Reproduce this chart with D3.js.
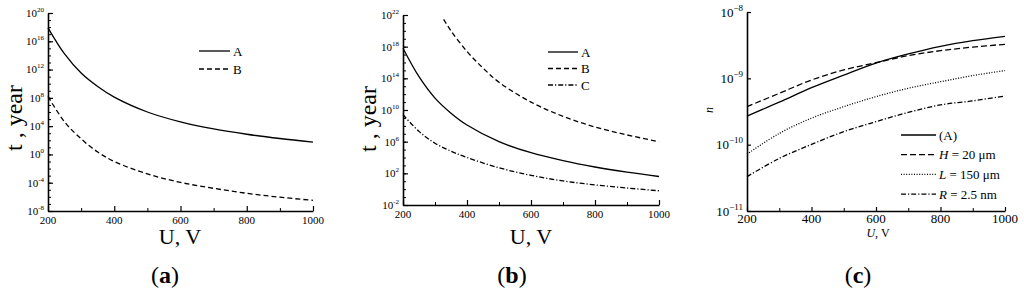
<!DOCTYPE html>
<html><head><meta charset="utf-8">
<script src="https://cdn.jsdelivr.net/npm/d3@7"></script>
<style>
html,body{margin:0;padding:0;background:#fff;}
svg{display:block;}
text{font-family:"Liberation Serif","Times New Roman","DejaVu Serif",serif;fill:#000;}
</style></head>
<body>
<svg id="chart" width="1024" height="289"></svg>
<script>
// ---------- DATA ----------
// Panel (a)
const Ua = [200,250,300,350,400,500,600,700,800,900,1000];
const tA_a = [7.9e17,1.6e14,3.2e11,4.0e9,1.26e8,1.0e6,4.0e4,4.0e3,710,178,56];
const tB_a = [1.6e8,4.0e4,160,2.2,0.1,1.8e-3,1.1e-4,1.6e-5,3.2e-6,8.9e-7,3.2e-7];
// Panel (b)
const UA_b = [200,250,300,350,400,500,600,700,800,900,1000];
const tA_b = [6.3e17,1.6e14,3.2e11,4.0e9,1.26e8,1.0e6,4.0e4,4.0e3,630,141,40];
const UB_b = [327,350,400,450,500,600,700,800,900,1000];
const tB_b = [2.8e21,1.0e20,2.5e17,2.0e15,3.2e13,1.0e11,1.6e9,7.1e7,7.1e6,1.0e6];
const UC_b = [200,250,300,350,400,500,600,700,800,900,1000];
const tC_b = [2.5e9,2.0e7,6.3e5,6.3e4,1.0e4,500,56,11,3.5,1.4,0.63];
// Panel (c)
const Uc = [200,300,400,500,600,700,800,900,1000];
const nA_c = [2.70e-10,4.37e-10,7.24e-10,1.12e-9,1.70e-9,2.33e-9,3.03e-9,3.70e-9,4.30e-9];
const nH_c = [3.74e-10,5.94e-10,9.44e-10,1.34e-9,1.72e-9,2.20e-9,2.61e-9,2.96e-9,3.26e-9];
const nL_c = [7.2e-11,1.48e-10,2.51e-10,3.74e-10,5.3e-10,7.08e-10,8.9e-10,1.10e-9,1.31e-9];
const nR_c = [3.3e-11,6.2e-11,1.01e-10,1.57e-10,2.22e-10,3.07e-10,3.98e-10,4.57e-10,5.42e-10];

const xTicks = [200,400,600,800,1000];
const xMinor = [300,500,700,900];
const legA = ["A","B"];
const legB = ["A","B","C"];
const legC = ["(A)","H = 20 μm","L = 150 μm","R = 2.5 nm"];
const titles = ["a","b","c"];

// ---------- DRAW ----------
const svg = d3.select("#chart");
const DASH = {solid:null, dash:"5,3", dashc:"6,3", dot:"1,1.6", dashdot:"5,2,1.2,2"};

function zip(xs, ys){ return xs.map((v,i)=>[v, ys[i]]); }

function panel(o){
  const g = svg.append("g");
  const x = d3.scaleLinear().domain([200,1000]).range([o.x0,o.x1]);
  const y = d3.scaleLog().domain(o.ydom).range([o.y1,o.y0]);

  g.append("g").attr("transform",`translate(${o.x0},0)`)
    .call(d3.axisLeft(y).tickValues(o.yMinor).tickSize(-o.minorLen).tickFormat(""))
    .call(s=>s.select(".domain").remove())
    .call(s=>s.selectAll("line").attr("stroke-width",1));
  g.append("g").attr("transform",`translate(${o.x0},0)`)
    .call(d3.axisLeft(y).tickValues(o.yMajor).tickSize(-o.majorLen).tickSizeOuter(0).tickFormat(""))
    .call(s=>s.select(".domain").attr("stroke-width",1.6))
    .call(s=>s.selectAll("line").attr("stroke-width",1.2));
  g.append("g").attr("transform",`translate(0,${o.y1})`)
    .call(d3.axisBottom(x).tickValues(xMinor).tickSize(-o.minorLen).tickFormat(""))
    .call(s=>s.select(".domain").remove())
    .call(s=>s.selectAll("line").attr("stroke-width",1));
  g.append("g").attr("transform",`translate(0,${o.y1})`)
    .call(d3.axisBottom(x).tickValues(xTicks).tickSize(-o.majorLen).tickSizeOuter(0).tickFormat(""))
    .call(s=>s.select(".domain").attr("stroke-width",1.6))
    .call(s=>s.selectAll("line").attr("stroke-width",1.2));

  g.selectAll(".xl").data(xTicks).enter().append("text")
    .attr("x",d=>x(d)).attr("y",o.y1+o.xlabDy)
    .attr("text-anchor","middle").attr("font-size",o.tickFs).text(d=>d);
  o.yMajor.forEach(v=>{
    const k = Math.round(Math.log10(v));
    const t = g.append("text").attr("x",o.x0-o.ylabGap).attr("y",y(v)+o.tickFs*0.35)
      .attr("text-anchor","end").attr("font-size",o.tickFs);
    t.append("tspan").text("10");
    t.append("tspan").attr("dy",-o.tickFs*0.45).attr("font-size",o.supFs)
      .text(k<0 ? o.minus+Math.abs(k) : String(k));
  });

  const line = d3.line().x(d=>x(d[0])).y(d=>y(d[1])).curve(d3.curveCatmullRom.alpha(0.5));
  o.series.forEach(s=>{
    g.append("path").datum(s.data).attr("d",line)
      .attr("fill","none").attr("stroke","#000").attr("stroke-width",1.3)
      .attr("stroke-dasharray",DASH[s.style]);
  });

  o.series.forEach((s,i)=>{
    const ly = o.legY + i*o.legDy;
    g.append("line").attr("x1",o.legX).attr("x2",o.legX+o.legW).attr("y1",ly).attr("y2",ly)
      .attr("stroke","#000").attr("stroke-width",1.3).attr("stroke-dasharray",DASH[s.style]);
    const t = g.append("text").attr("x",o.legX+o.legW+3).attr("y",ly+o.legFs*0.35)
      .attr("font-size",o.legFs);
    if (s.italicFirst){
      t.append("tspan").attr("font-style","italic").text(s.name.charAt(0));
      t.append("tspan").text(s.name.slice(1));
    } else t.text(s.name);
  });

  o.titles(g);

  const cap = g.append("text").attr("x",o.capX).attr("y",283).attr("text-anchor","middle").attr("font-size",24);
  cap.append("tspan").text("(");
  cap.append("tspan").attr("font-weight","bold").text(o.cap);
  cap.append("tspan").text(")");
}

function range10(a,b){ return d3.range(a,b+1).map(k=>Math.pow(10,k)); }

// Panel (a)
panel({
  x0:48, x1:313, y0:13, y1:211, ydom:[1e-8,1e20],
  yMajor:[-8,-4,0,4,8,12,16,20].map(k=>Math.pow(10,k)),
  yMinor:range10(-8,20), majorLen:5, minorLen:3,
  tickFs:11, supFs:7, ylabGap:4, xlabDy:13, minus:"-",
  series:[
    {name:legA[0], style:"solid", data:zip(Ua,tA_a)},
    {name:legA[1], style:"dash", data:zip(Ua,tB_a)}
  ],
  legX:199, legW:31, legY:51, legDy:18, legFs:13,
  titles:g=>{
    g.append("text").attr("transform","translate(22,118) rotate(-90)").attr("text-anchor","middle")
      .attr("font-size",24).text("t , year");
    g.append("text").attr("x",180).attr("y",244).attr("text-anchor","middle").attr("font-size",22).text("U, V");
  },
  capX:165, cap:titles[0]
});

// Panel (b)
panel({
  x0:403, x1:659, y0:15, y1:205, ydom:[1e-2,1e22],
  yMajor:[-2,2,6,10,14,18,22].map(k=>Math.pow(10,k)),
  yMinor:range10(-2,22), majorLen:5, minorLen:3,
  tickFs:11, supFs:7, ylabGap:4, xlabDy:13, minus:"-",
  series:[
    {name:legB[0], style:"solid", data:zip(UA_b,tA_b)},
    {name:legB[1], style:"dash", data:zip(UB_b,tB_b)},
    {name:legB[2], style:"dashdot", data:zip(UC_b,tC_b)}
  ],
  legX:548, legW:30, legY:52, legDy:16.5, legFs:13,
  titles:g=>{
    g.append("text").attr("transform","translate(376,119) rotate(-90)").attr("text-anchor","middle")
      .attr("font-size",24).text("t , year");
    g.append("text").attr("x",531).attr("y",244).attr("text-anchor","middle").attr("font-size",22).text("U, V");
  },
  capX:512, cap:titles[1]
});

// Panel (c)
panel({
  x0:747, x1:1005, y0:12, y1:211, ydom:[1e-11,1e-8],
  yMajor:range10(-11,-8), yMinor:[], majorLen:4, minorLen:3,
  tickFs:13, supFs:9, ylabGap:4, xlabDy:12, minus:"−",
  series:[
    {name:legC[0], style:"solid", data:zip(Uc,nA_c)},
    {name:legC[1], style:"dashc", data:zip(Uc,nH_c), italicFirst:true},
    {name:legC[2], style:"dot", data:zip(Uc,nL_c), italicFirst:true},
    {name:legC[3], style:"dashdot", data:zip(Uc,nR_c), italicFirst:true}
  ],
  legX:901, legW:35, legY:135, legDy:19.7, legFs:13,
  titles:g=>{
    g.append("text").attr("transform","translate(713,110) rotate(-90)").attr("text-anchor","middle")
      .attr("font-size",12).attr("font-style","italic").text("n");
    const t = g.append("text").attr("x",878).attr("y",237).attr("text-anchor","middle").attr("font-size",12);
    t.append("tspan").attr("font-style","italic").text("U");
    t.append("tspan").text(", V");
  },
  capX:858, cap:titles[2]
});
</script>
</body></html>
